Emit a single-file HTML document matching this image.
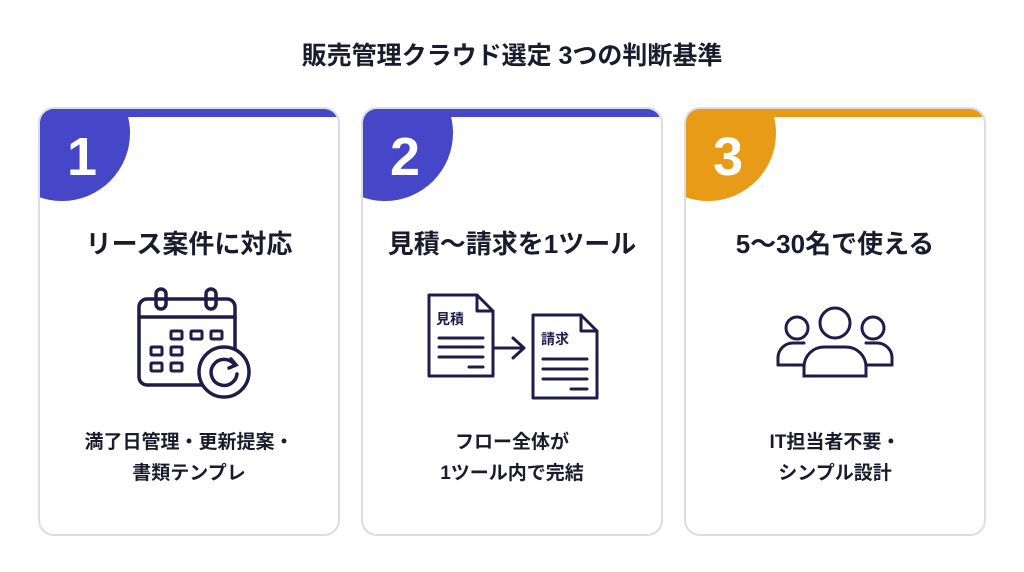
<!DOCTYPE html>
<html><head><meta charset="utf-8"><style>
body{margin:0;width:1024px;height:572px;background:#fff;font-family:"Liberation Sans","Noto Sans CJK JP",sans-serif;color:#1c1b2e;position:relative;overflow:hidden}
.t{position:absolute;left:0;width:1024px;top:36px;text-align:center;font-size:25px;font-weight:bold}
.card{position:absolute;top:107px;width:298px;height:425px;border:2px solid #dcdce4;border-radius:16px;overflow:hidden;background:#fff}
.bar{position:absolute;top:0;left:0;right:0;height:8px}
.num{position:absolute;left:-46px;top:-44px;width:136px;height:136px;border-radius:50%;color:#fff;font-size:54px;font-weight:bold}
.num span{position:absolute;left:73px;top:62px;line-height:60px}
.h{position:absolute;top:115px;width:100%;text-align:center;font-size:26px;font-weight:bold}
.d{position:absolute;top:318px;width:100%;text-align:center;font-size:19px;font-weight:bold;line-height:31px}
svg{position:absolute;left:0;top:0}
</style></head><body>
<div class="t">販売管理クラウド選定 3つの判断基準</div>

<div class="card" style="left:38px">
<div class="bar" style="background:#4646c8"></div>
<div class="num" style="background:#4646c8"><span>1</span></div>
<div class="h">リース案件に対応</div>
<svg width="298" height="425" fill="none" stroke="#1f1d48" stroke-width="3.5" stroke-linecap="round">
<rect x="99" y="190" width="96" height="86" rx="8"/>
<line x1="99" y1="208" x2="195" y2="208"/>
<rect x="116" y="180" width="10" height="20" rx="5"/><rect x="166" y="180" width="10" height="20" rx="5"/>
<g stroke-width="3"><rect x="131" y="222" width="11" height="8" rx="1"/><rect x="151" y="222" width="11" height="8" rx="1"/><rect x="171" y="222" width="11" height="8" rx="1"/>
<rect x="111" y="238" width="11" height="8" rx="1"/><rect x="131" y="238" width="11" height="8" rx="1"/>
<rect x="111" y="254" width="11" height="8" rx="1"/><rect x="131" y="254" width="11" height="8" rx="1"/></g>
<circle cx="184" cy="263" r="25" fill="#fff"/>
<path d="M194 255 A13 13 0 1 0 197 265"/><path d="M191 250 L196 256 L189 259"/>
</svg>
<div class="d">満了日管理・更新提案・<br>書類テンプレ</div>
</div>

<div class="card" style="left:361px">
<div class="bar" style="background:#4646c8"></div>
<div class="num" style="background:#4646c8"><span>2</span></div>
<div class="h">見積〜請求を1ツール</div>
<svg width="298" height="425" fill="none" stroke="#1f1d48" stroke-width="3" stroke-linecap="round" stroke-linejoin="round">
<path d="M66 186 H114 L130 202 V267 H66 Z"/><path d="M114 186 V202 H130"/>
<line x1="76" y1="229" x2="120" y2="229"/><line x1="76" y1="238" x2="120" y2="238"/><line x1="76" y1="248" x2="120" y2="248"/><line x1="106" y1="258" x2="120" y2="258"/>
<line x1="130" y1="239" x2="160" y2="239"/><path d="M150 229 L161 239 L150 249"/>
<path d="M170 206 H218 L234 222 V289 H170 Z"/><path d="M218 206 V222 H234"/>
<line x1="180" y1="250" x2="224" y2="250"/><line x1="180" y1="260" x2="224" y2="260"/><line x1="180" y1="270" x2="224" y2="270"/><line x1="208" y1="280" x2="224" y2="280"/>
<text x="73" y="215" fill="#1f1d48" stroke="none" font-size="14" font-weight="bold">見積</text>
<text x="178" y="235" fill="#1f1d48" stroke="none" font-size="14" font-weight="bold">請求</text>
</svg>
<div class="d">フロー全体が<br>1ツール内で完結</div>
</div>

<div class="card" style="left:684px">
<div class="bar" style="background:#e89b16"></div>
<div class="num" style="background:#e89b16"><span>3</span></div>
<div class="h">5〜30名で使える</div>
<svg width="298" height="425" fill="none" stroke="#1f1d48" stroke-width="3" stroke-linecap="round">
<circle cx="149" cy="214" r="15"/><path d="M118 267 V258 A20 20 0 0 1 138 238 H160 A20 20 0 0 1 180 258 V267 Z"/>
<circle cx="111" cy="219" r="11"/><path d="M92 256 V248 A15 15 0 0 1 107 234 H118"/><path d="M92 256 H118"/>
<circle cx="187" cy="219" r="11"/><path d="M206 256 V248 A15 15 0 0 0 191 234 H180"/><path d="M206 256 H180"/>
</svg>
<div class="d">IT担当者不要・<br>シンプル設計</div>
</div>
</body></html>
